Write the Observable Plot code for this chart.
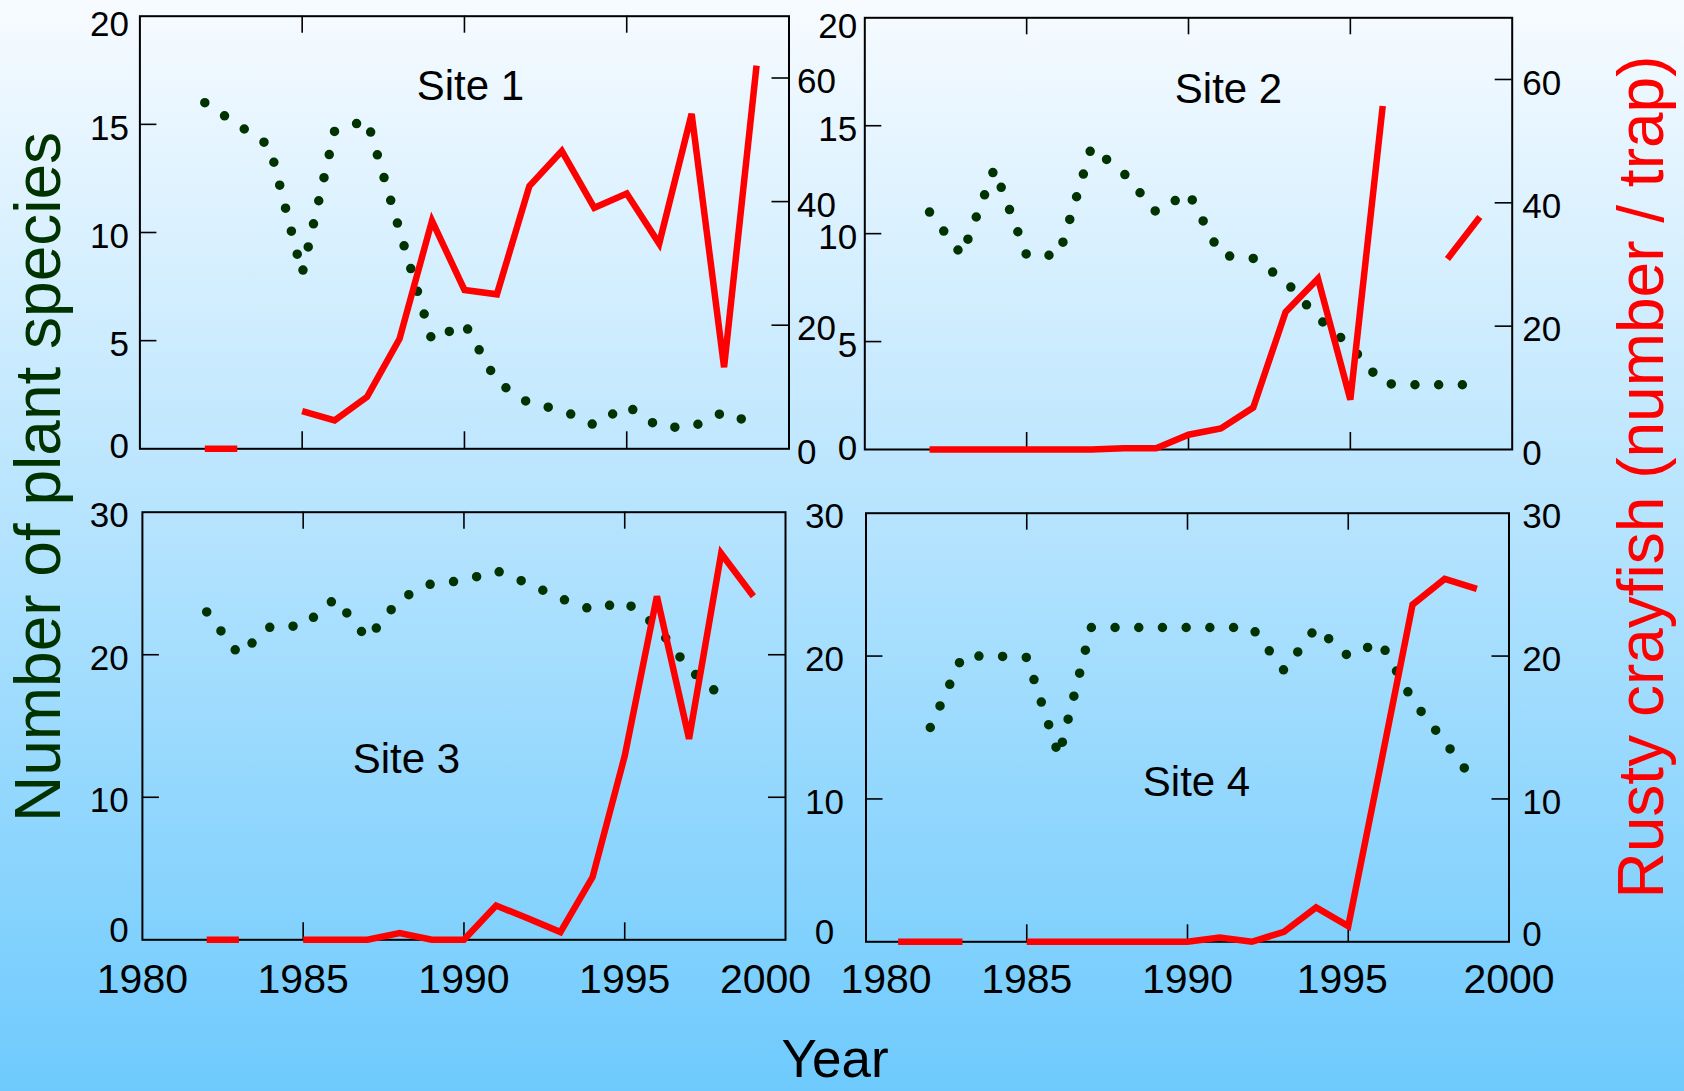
<!DOCTYPE html>
<html>
<head>
<meta charset="utf-8">
<script src="https://cdn.jsdelivr.net/npm/d3@7"></script>
<script src="https://cdn.jsdelivr.net/npm/@observablehq/plot@0.6"></script>
<style>
html, body { margin: 0; padding: 0; width: 1684px; height: 1091px; overflow: hidden; }
body { background: linear-gradient(to bottom, #f7fbff 0%, #6ecafd 100%); font-family: "Liberation Sans", Arial, Helvetica, sans-serif; }
#chart { position: relative; width: 1684px; height: 1091px; }
#chart svg { position: absolute; left: 0; top: 0; }
.title { position: absolute; white-space: nowrap; line-height: 1; font-family: "Liberation Sans", Arial, Helvetica, sans-serif; }
</style>
</head>
<body>
<div id="chart"></div>
<script>
// ---------------- DATA ----------------
const years = [1982, 1983, 1984, 1985, 1986, 1987, 1988, 1989, 1990, 1991, 1992, 1993, 1994, 1995, 1996, 1997, 1998, 1999];
const yearsFrom1981 = [1981, 1982, 1983, 1984, 1985, 1986, 1987, 1988, 1989, 1990, 1991, 1992, 1993, 1994, 1995, 1996, 1997, 1998, 1999];

// Number of plant species (left axis)
const site1Plant = [16.0, 15.0, 14.0, 8.1, 14.7, 15.2, 10.1, 5.0, 5.8, 3.1, 2.1, 1.8, 1.1, 2.0, 1.0, 1.0, 1.7, 1.1];
const site2Plant = [11.0, 9.0, 13.0, 9.0, 9.0, 14.0, 12.8, 11.0, 11.9, 9.0, 8.85, 7.8, 6.1, 4.8, 3.05, 3.0, 3.0, 3.0];
const site3Plant = [23.0, 20.0, 22.0, 22.0, 23.95, 21.1, 23.9, 25.0, 25.2, 25.9, 25.0, 23.95, 23.15, 23.75, 22.0, 19.0, 17.1, null];
const site4Plant = [15.0, 20.0, 20.0, 19.9, 13.0, 22.0, 22.0, 22.0, 22.0, 22.0, 22.0, 19.0, 22.0, 20.0, 21.0, 16.9, 14.0, 11.0];

// Rusty crayfish (number / trap) (right axis); null = not sampled
const site1Cray = [0, 0, null, 6.1, 4.6, 8.4, 17.8, 36.9, 25.7, 25.0, 42.5, 48.2, 39.0, 41.3, 33.2, 54.2, 13.2, 62.0];
const site2Cray = [0, 0, 0, 0, 0, 0, 0.2, 0.2, 2.4, 3.4, 6.8, 22.3, 27.7, 8.1, 55.7, null, 30.9, 37.7];
const site3Cray = [0, 0, null, 0, 0, 0, 0.47, 0, 0, 2.4, 1.5, 0.54, 4.4, 12.9, 24.1, 14.1, 27.1, 24.1];
const site4Cray = [0, 0, 0, null, 0, 0, 0, 0, 0, 0, 0.3, 0, 0.7, 2.4, 1.1, 12.3, 23.6, 25.4, 24.7];

const siteNames = ["Site 1", "Site 2", "Site 3", "Site 4"];
const xLabelTicks = [1980, 1985, 1990, 1995, 2000];
const xInnerTicks = [1985, 1990, 1995];
const topPlantTicks = [0, 5, 10, 15, 20];
const topPlantInner = [5, 10, 15];
const topCrayTicks = [0, 20, 40, 60];
const topCrayInner = [20, 40, 60];
const bottomTicks = [0, 10, 20, 30];
const bottomInner = [10, 20];

const yLeftTitle = "Number of plant species";
const yRightTitle = "Rusty crayfish (number / trap)";
const xTitle = "Year";

// ---------------- LAYOUT / STYLE ----------------
const W = 1684, H = 1091;
const FONT = '"Liberation Sans", Arial, Helvetica, sans-serif';
const GREEN = "#003300";
const RED = "#ff0000";
const TL = 17; // inward tick length
const LABEL_DY = 4;

const panels = [
  {site: siteNames[0], plantYears: years, plant: site1Plant, crayYears: years, cray: site1Cray,
   plantMax: 20, crayMax: 70, plantTicks: topPlantTicks, plantInner: topPlantInner, crayTicks: topCrayTicks, crayInner: topCrayInner,
   box: {l: 139.4, r: 788.5, t: 15.7, b: 448.3}, leftPad: 11, leftAnchor: "end", leftShift: {20: 9, 0: -2},
   showRight: true, rightPad: 8, rightShift: {},
   showX: false, label: {dx: 6, dy: 70}},
  {site: siteNames[1], plantYears: years, plant: site2Plant, crayYears: years, cray: site2Cray,
   plantMax: 20, crayMax: 70, plantTicks: topPlantTicks, plantInner: topPlantInner, crayTicks: topCrayTicks, crayInner: topCrayInner,
   box: {l: 864.3, r: 1511.7, t: 17.3, b: 449}, leftPad: 7.6, leftAnchor: "end", leftShift: {20: 9, 0: -1},
   showRight: true, rightPad: 10, rightShift: {},
   showX: false, label: {dx: 40, dy: 72}},
  {site: siteNames[2], plantYears: years, plant: site3Plant, crayYears: years, cray: site3Cray,
   plantMax: 30, crayMax: 30, plantTicks: bottomTicks, plantInner: bottomInner, crayTicks: bottomTicks, crayInner: bottomInner,
   box: {l: 141.9, r: 785, t: 511.7, b: 939.3}, leftPad: 13.6, leftAnchor: "end", leftShift: {0: -9},
   showRight: false, rightPad: 13, rightShift: {},
   showX: true, xPad: 23.6, xShift: {2000: -20}, label: {dx: -57.5, dy: 247}},
  {site: siteNames[3], plantYears: years, plant: site4Plant, crayYears: yearsFrom1981, cray: site4Cray,
   plantMax: 30, crayMax: 30, plantTicks: bottomTicks, plantInner: bottomInner, crayTicks: bottomTicks, crayInner: bottomInner,
   box: {l: 865.5, r: 1508.5, t: 512.7, b: 941.3}, leftPad: 41.5, leftAnchor: "middle", leftShift: {0: -9},
   showRight: true, rightPad: 13.2, rightShift: {0: -7},
   showX: true, xPad: 21.6, xShift: {1980: 20, 1995: -6}, label: {dx: 9, dy: 269}}
];

function rows(ys, vs) {
  return ys.map((year, i) => ({year, value: vs[i] == null ? NaN : vs[i]}));
}

function shell(p, yDomain, marks) {
  const b = p.box;
  return Plot.plot({
    width: W, height: H,
    marginLeft: b.l, marginRight: W - b.r, marginTop: b.t, marginBottom: H - b.b,
    style: {background: "transparent", overflow: "visible", fontFamily: FONT, color: "black"},
    x: {domain: [1980, 2000], axis: null},
    y: {domain: yDomain, axis: null},
    marks: marks.filter(Boolean)
  });
}

// y-axis labels, grouped by vertical nudge
function yLabels(anchor, ticks, shift, opts) {
  const groups = d3.group(ticks, t => (shift[t] ?? LABEL_DY));
  return Array.from(groups, ([dy, tks]) =>
    Plot.axisY({anchor, ticks: tks, tickSize: 0, fontSize: 35, tickFormat: d => String(d), label: null, dy, ...opts}));
}

const chart = document.getElementById("chart");

for (const p of panels) {
  const iw = p.box.r - p.box.l, ih = p.box.b - p.box.t;
  const tickStyle = {stroke: "black", strokeWidth: 1.6};

  // ---- plant layer (left axis) ----
  const plantMarks = [
    Plot.frame({stroke: "black", strokeWidth: 2}),
    Plot.tickX(xInnerTicks, {x: d => d, insetTop: ih - TL, ...tickStyle}),
    Plot.tickX(xInnerTicks, {x: d => d, insetBottom: ih - TL, ...tickStyle}),
    Plot.tickY(p.plantInner, {y: d => d, insetRight: iw - TL, ...tickStyle}),
    ...yLabels("left", p.plantTicks, p.leftShift, {tickPadding: p.leftPad, textAnchor: p.leftAnchor})
  ];
  if (p.showX) {
    const groups = d3.group(xLabelTicks, t => p.xShift[t] || 0);
    for (const [dx, ticks] of groups) {
      plantMarks.push(Plot.axisX({anchor: "bottom", ticks, tickSize: 0, tickPadding: p.xPad, fontSize: 41,
                                  tickFormat: d => String(d), label: null, dx}));
    }
  }
  plantMarks.push(
    Plot.line(rows(p.plantYears, p.plant), {x: "year", y: "value", stroke: GREEN, strokeWidth: 9.5,
              strokeDasharray: "0 23.7", strokeLinecap: "round", strokeLinejoin: "round"}),
    Plot.text([p.site], {text: d => d, frameAnchor: "top", lineAnchor: "middle", textAnchor: "middle",
              dx: p.label.dx, dy: p.label.dy, fontSize: 42, fill: "black"})
  );
  chart.appendChild(shell(p, [0, p.plantMax], plantMarks));

  // ---- crayfish layer (right axis) ----
  const crayMarks = [
    Plot.tickY(p.crayInner, {y: d => d, insetLeft: iw - TL, ...tickStyle}),
    ...(p.showRight ? yLabels("right", p.crayTicks, p.rightShift, {tickPadding: p.rightPad}) : []),
    Plot.line(rows(p.crayYears, p.cray), {x: "year", y: "value", stroke: RED, strokeWidth: 6.5,
              strokeLinecap: "butt", strokeLinejoin: "miter", strokeMiterlimit: 4})
  ];
  chart.appendChild(shell(p, [0, p.crayMax], crayMarks));
}

// ---- shared titles ----
function addTitle(text, css) {
  const d = document.createElement("div");
  d.className = "title";
  d.textContent = text;
  Object.assign(d.style, css);
  chart.appendChild(d);
}
addTitle(yLeftTitle, {left: "37.8px", top: "476.5px", fontSize: "64px", color: GREEN,
  transform: "translate(-50%, -50%) rotate(-90deg)"});
addTitle(yRightTitle, {left: "1641px", top: "476.5px", fontSize: "64px", color: RED,
  transform: "translate(-50%, -50%) rotate(-90deg)"});
addTitle(xTitle, {left: "835px", top: "1036px", fontSize: "53px", lineHeight: "0.85", color: "black",
  transform: "translateX(-50%)"});
</script>
</body>
</html>
